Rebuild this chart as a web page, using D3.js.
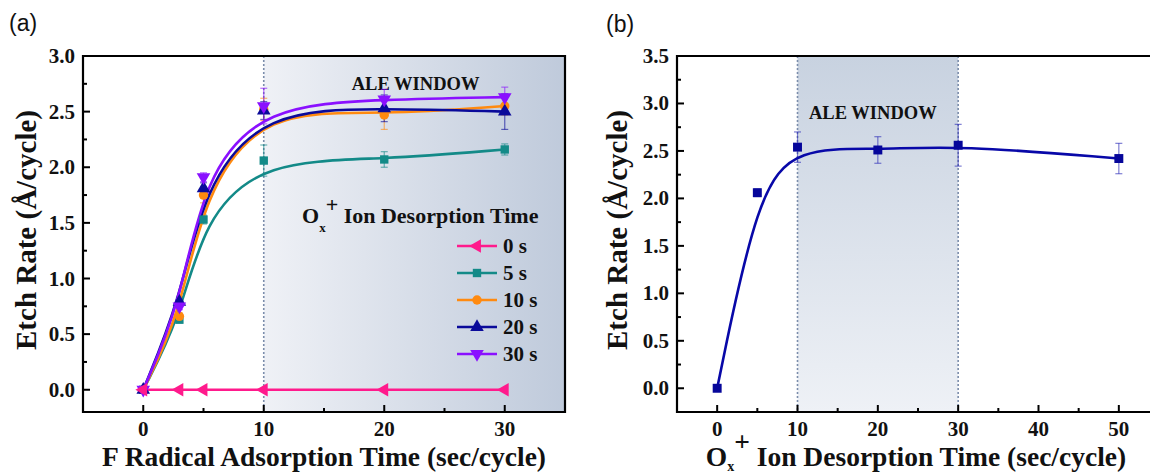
<!DOCTYPE html>
<html><head><meta charset="utf-8">
<script src="https://cdn.jsdelivr.net/npm/d3@7"></script>
<style>
html,body{margin:0;padding:0;background:#fff;overflow:hidden;}
svg{display:block;}
text{font-family:"Liberation Serif","Times New Roman",serif;font-weight:bold;fill:#111;}
</style></head>
<body>
<svg id="c" width="1150" height="475"></svg>
<script>
// ---------- data ----------
const adsTimes = [0, 3, 5, 10, 20, 30];
const seriesNames = ["0 s", "5 s", "10 s", "20 s", "30 s"];
const seriesColors = ["#ff1a8c", "#138a88", "#ff8a10", "#0a0a9a", "#8a10ff"];
const seriesSymbols = ["left", "square", "circle", "up", "down"];
const rate0s  = [0, 0, 0, 0, 0, 0];
const rate5s  = [0, 0.63, 1.53, 2.06, 2.07, 2.16];
const rate10s = [0, 0.66, 1.75, 2.52, 2.47, 2.55];
const rate20s = [0, 0.79, 1.81, 2.51, 2.53, 2.50];
const rate30s = [0, 0.75, 1.91, 2.55, 2.61, 2.63];
const err0s  = [0, 0, 0, 0, 0, 0];
const err5s  = [0, 0.03, 0.04, 0.14, 0.07, 0.05];
const err10s = [0, 0.03, 0.07, 0.10, 0.13, 0.08];
const err20s = [0, 0.04, 0.05, 0.08, 0.12, 0.16];
const err30s = [0, 0.03, 0.04, 0.16, 0.09, 0.09];
const rateA = [rate0s, rate5s, rate10s, rate20s, rate30s];
const errA  = [err0s, err5s, err10s, err20s, err30s];

const desTimes = [0, 5, 10, 20, 30, 50];
const rateB = [0, 2.06, 2.54, 2.51, 2.56, 2.42];
const errB  = [0, 0.04, 0.16, 0.14, 0.22, 0.16];

const ticksAx = [0, 10, 20, 30];
const ticksAy = [0.0, 0.5, 1.0, 1.5, 2.0, 2.5, 3.0];
const ticksBx = [0, 10, 20, 30, 40, 50];
const ticksBy = [0.0, 0.5, 1.0, 1.5, 2.0, 2.5, 3.0, 3.5];

// ---------- setup ----------
const svg = d3.select("#c");
const defs = svg.append("defs");
const gA = defs.append("linearGradient").attr("id","gradA").attr("x1","0").attr("x2","1").attr("y1","0").attr("y2","0");
gA.append("stop").attr("offset","0").attr("stop-color","#eff1f6");
gA.append("stop").attr("offset","1").attr("stop-color","#bfcadb");
const gB = defs.append("linearGradient").attr("id","gradB").attr("x1","0").attr("x2","0").attr("y1","0").attr("y2","1");
gB.append("stop").attr("offset","0").attr("stop-color","#c8d2e0");
gB.append("stop").attr("offset","1").attr("stop-color","#eef1f6");

function symbolPath(kind, size){
  if (kind === "square") return d3.symbol(d3.symbolSquare, size)();
  if (kind === "circle") return d3.symbol(d3.symbolCircle, size)();
  return d3.symbol(d3.symbolTriangle, size)();
}
function symbolRot(kind){
  if (kind === "down") return 180;
  if (kind === "left") return -90;
  return 0;
}

function drawAxes(g, x, y, xt, yt, xMinor, yMinor, opts){
  const [x0,x1] = x.range(); const [y0,y1] = y.range();
  const tg = g.append("g");
  xt.forEach(v => tg.append("line").attr("x1",x(v)).attr("x2",x(v)).attr("y1",y0).attr("y2",y0-7).attr("stroke","#000").attr("stroke-width",2));
  xMinor.forEach(v => tg.append("line").attr("x1",x(v)).attr("x2",x(v)).attr("y1",y0).attr("y2",y0-4).attr("stroke","#000").attr("stroke-width",2));
  yt.forEach(v => tg.append("line").attr("x1",x0).attr("x2",x0+7).attr("y1",y(v)).attr("y2",y(v)).attr("stroke","#000").attr("stroke-width",2));
  yMinor.forEach(v => tg.append("line").attr("x1",x0).attr("x2",x0+4).attr("y1",y(v)).attr("y2",y(v)).attr("stroke","#000").attr("stroke-width",2));
  xt.forEach(v => g.append("text").attr("x",x(v)).attr("y",y0+24).attr("text-anchor","middle").style("font-size","21px").text(d3.format("d")(v)));
  yt.forEach(v => g.append("text").attr("x",x0-8).attr("y",y(v)+7).attr("text-anchor","end").style("font-size","21px").text(d3.format(".1f")(v)));
  g.append("line").attr("x1",x0).attr("x2",x0).attr("y1",y0+1).attr("y2",y1-1).attr("stroke","#000").attr("stroke-width",2.2);
  g.append("line").attr("x1",x0-1).attr("x2",x1+1).attr("y1",y0).attr("y2",y0).attr("stroke","#000").attr("stroke-width",2.2);
  g.append("line").attr("x1",x0-1).attr("x2",x1+1).attr("y1",y1).attr("y2",y1).attr("stroke","#000").attr("stroke-width",2.2);
  if (opts.right) g.append("line").attr("x1",x1).attr("x2",x1).attr("y1",y0+1).attr("y2",y1-1).attr("stroke","#000").attr("stroke-width",2.2);
}

function errBars(g, xs, ys, es, x, y, color){
  xs.forEach((xv,i) => {
    if (!es[i]) return;
    const cx = x(xv), t = y(ys[i]+es[i]), b = y(ys[i]-es[i]);
    g.append("line").attr("x1",cx).attr("x2",cx).attr("y1",t).attr("y2",b).attr("stroke",color).attr("stroke-width",1.2).attr("opacity",0.6);
    [t,b].forEach(yy => g.append("line").attr("x1",cx-3.5).attr("x2",cx+3.5).attr("y1",yy).attr("y2",yy).attr("stroke",color).attr("stroke-width",1.2).attr("opacity",0.6));
  });
}

// ---------- panel (a) ----------
const xa = d3.scaleLinear().domain([-5, 35]).range([83, 565]);
const ya = d3.scaleLinear().domain([-0.2, 3.0]).range([412, 56]);
const pa = svg.append("g");
pa.append("rect").attr("x",xa(10)).attr("y",ya(3.0)).attr("width",xa(35)-xa(10)).attr("height",ya(-0.2)-ya(3.0)).attr("fill","url(#gradA)");
pa.append("line").attr("x1",xa(10)).attr("x2",xa(10)).attr("y1",ya(3.0)).attr("y2",ya(-0.2)).attr("stroke","#7b8dab").attr("stroke-width",1.6).attr("stroke-dasharray","2,2");
pa.append("text").attr("x",xa(22.6)).attr("y",90).attr("text-anchor","middle").style("font-size","18.5px").text("ALE WINDOW");

const lineA = d3.line().x((d,i)=>xa(adsTimes[i])).y(d=>ya(d)).curve(d3.curveBasis);
const order = [1,2,3,4,0];
order.forEach(k => errBars(pa, adsTimes, rateA[k], errA[k], xa, ya, seriesColors[k]));
order.forEach(k => {
  pa.append("path").attr("d", lineA(rateA[k])).attr("fill","none").attr("stroke",seriesColors[k]).attr("stroke-width",2.6);
});
order.forEach(k => {
  adsTimes.forEach((xv,i) => {
    pa.append("path").attr("d", symbolPath(seriesSymbols[k], seriesSymbols[k]==="square"||seriesSymbols[k]==="circle"?70:80))
      .attr("transform",`translate(${xa(xv)},${ya(rateA[k][i])}) rotate(${symbolRot(seriesSymbols[k])})`)
      .attr("fill",seriesColors[k]);
  });
});
drawAxes(pa, xa, ya, ticksAx, ticksAy, [-5,5,15,25,35], d3.range(-0.25,3.0,0.5).filter(v=>v>-0.2), {right:true});

// legend
const lt = pa.append("text").attr("x",302).attr("y",223).style("font-size","22px");
lt.append("tspan").text("O");
lt.append("tspan").attr("dy",9).style("font-size","13px").text("x");
lt.append("tspan").attr("dy",-20).style("font-size","22px").text("+");
lt.append("tspan").attr("dy",11).text(" Ion Desorption Time");
seriesNames.forEach((nm,k) => {
  const yy = 246 + 27*k;
  pa.append("line").attr("x1",457).attr("x2",497).attr("y1",yy).attr("y2",yy).attr("stroke",seriesColors[k]).attr("stroke-width",2.6);
  pa.append("path").attr("d", symbolPath(seriesSymbols[k], seriesSymbols[k]==="square"||seriesSymbols[k]==="circle"?70:80))
    .attr("transform",`translate(477,${yy}) rotate(${symbolRot(seriesSymbols[k])})`).attr("fill",seriesColors[k]);
  pa.append("text").attr("x",503).attr("y",yy+7).style("font-size","21px").text(nm);
});

// titles
pa.append("text").attr("x",xa(15)).attr("y",466).attr("text-anchor","middle").style("font-size","27.5px").text("F Radical Adsorption Time (sec/cycle)");
pa.append("text").attr("transform",`translate(36,${(ya(3.0)+ya(-0.2))/2 - 4}) rotate(-90)`).attr("text-anchor","middle").style("font-size","29px").text("Etch Rate (Å/cycle)");
pa.append("text").attr("x",9).attr("y",31).style("font-family","'Liberation Sans',Arial,sans-serif").style("font-weight","normal").style("font-size","23px").text("(a)");

// ---------- panel (b) ----------
const xb = d3.scaleLinear().domain([-5, 55]).range([677, 1159]);
const yb = d3.scaleLinear().domain([-0.25, 3.5]).range([412, 56]);
const pb = svg.append("g");
pb.append("rect").attr("x",xb(10)).attr("y",yb(3.5)).attr("width",xb(30)-xb(10)).attr("height",yb(-0.25)-yb(3.5)).attr("fill","url(#gradB)");
[10,30].forEach(v => pb.append("line").attr("x1",xb(v)).attr("x2",xb(v)).attr("y1",yb(3.5)).attr("y2",yb(-0.25)).attr("stroke","#7b8dab").attr("stroke-width",1.6).attr("stroke-dasharray","2,2"));
pb.append("text").attr("x",809).attr("y",119).style("font-size","18.5px").text("ALE WINDOW");
errBars(pb, desTimes, rateB, errB, xb, yb, "#2a2ab8");
const lineB = d3.line().x((d,i)=>xb(desTimes[i])).y(d=>yb(d)).curve(d3.curveBasis);
pb.append("path").attr("d", lineB(rateB)).attr("fill","none").attr("stroke","#0808a8").attr("stroke-width",2.6);
desTimes.forEach((xv,i) => {
  pb.append("path").attr("d", symbolPath("square", 80)).attr("transform",`translate(${xb(xv)},${yb(rateB[i])})`).attr("fill","#06069a");
});
drawAxes(pb, xb, yb, ticksBx, ticksBy, [-5,5,15,25,35,45], d3.range(0.25,3.5,0.5), {right:false});

const bt = pb.append("text").attr("x",916).attr("y",466).attr("text-anchor","middle").style("font-size","27.5px");
bt.append("tspan").text("O");
bt.append("tspan").attr("dy",5).style("font-size","14px").text("x");
bt.append("tspan").attr("dy",-20).style("font-size","27.5px").text("+");
bt.append("tspan").attr("dy",15).text(" Ion Desorption Time (sec/cycle)");
pb.append("text").attr("transform",`translate(627,${(yb(3.5)+yb(-0.25))/2 - 4}) rotate(-90)`).attr("text-anchor","middle").style("font-size","29px").text("Etch Rate (Å/cycle)");
pb.append("text").attr("x",606).attr("y",32).style("font-family","'Liberation Sans',Arial,sans-serif").style("font-weight","normal").style("font-size","23px").text("(b)");
</script>
</body></html>
